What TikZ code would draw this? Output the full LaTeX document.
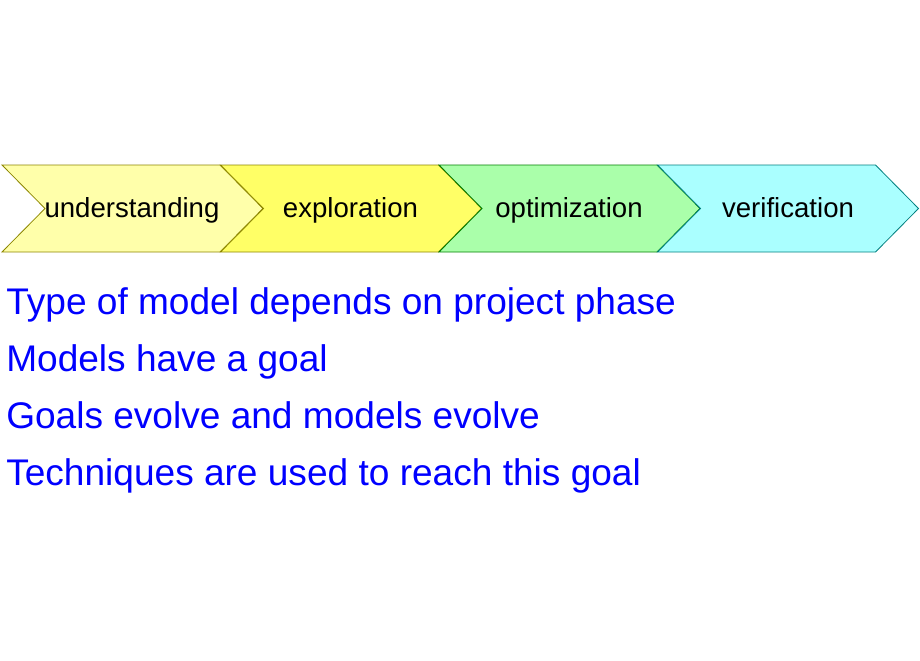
\documentclass[tikz,border=0pt]{standalone}
\usepackage{fontspec}
\setmainfont{Liberation Sans}
\definecolor{paleyellow}{RGB}{255,255,170}
\definecolor{brightyellow}{RGB}{255,255,102}
\definecolor{palegreen}{RGB}{170,255,170}
\definecolor{palecyan}{RGB}{170,255,255}
\definecolor{pointblue}{RGB}{0,0,255}
\usetikzlibrary{positioning,calc}

\begin{document}
\begin{tikzpicture}[x=0.75pt, y=-0.75pt,
    phasebox/.style={line width=0.6pt, line join=miter},
    phaselabel/.style={inner sep=0pt, anchor=base, font=\fontsize{20.7pt}{24pt}\selectfont},
    pointtext/.style={inner sep=0pt, anchor=base west, text=pointblue, font=\fontsize{27.8pt}{34pt}\selectfont}]
    \useasboundingbox (0,0) rectangle (920,660);

    % project phases
    \draw[phasebox, fill=paleyellow, draw=olive] (2,165) -- (220,165) -- (263,208.5) -- (220,252) -- (2,252) -- (45,208.5) -- cycle;
    \draw[phasebox, fill=brightyellow, draw=olive] (220.5,165) -- (438.5,165) -- (481.5,208.5) -- (438.5,252) -- (220.5,252) -- (263.5,208.5) -- cycle;
    \draw[phasebox, fill=palegreen, draw=green!50!black] (439,165) -- (657,165) -- (700,208.5) -- (657,252) -- (439,252) -- (482,208.5) -- cycle;
    \draw[phasebox, fill=palecyan, draw=teal] (657.5,165) -- (875.5,165) -- (918.5,208.5) -- (875.5,252) -- (657.5,252) -- (700.5,208.5) -- cycle;

    \node[phaselabel] (understanding) at (132,217) {understanding};
    \node[phaselabel] (exploration) at (350.5,217) {exploration};
    \node[phaselabel] (optimization) at (569,217) {optimization};
    \node[phaselabel] (verification) at (788,217) {verification};

    % statements
    \node[pointtext] (phase) at (6,314) {Type of model depends on project phase};
    \node[pointtext] (goal) at (6,371) {Models have a goal};
    \node[pointtext] (evolve) at (6,428) {Goals evolve and models evolve};
    \node[pointtext] (techniques) at (6,485) {Techniques are used to reach this goal};
\end{tikzpicture}
\end{document}
